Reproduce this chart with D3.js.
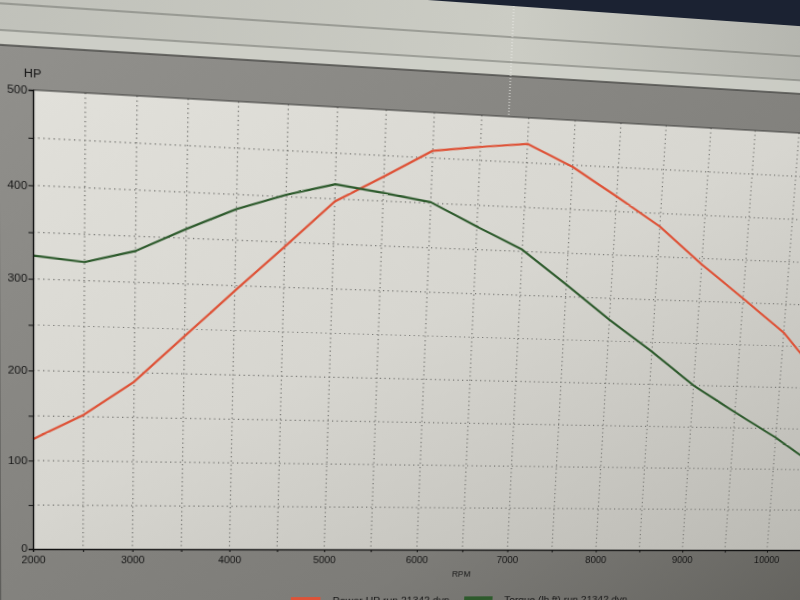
<!DOCTYPE html>
<html lang="en">
<head>
  <meta charset="UTF-8">
  <title>Dyno run - Power HP and Torque</title>
  <script src="https://d3js.org/d3.v7.min.js"></script>
  <style>
    html, body {
      margin: 0;
      padding: 0;
      width: 800px;
      height: 600px;
      overflow: hidden;
      background: #1b2232;
    }
    #screen {
      position: absolute;
      left: 0;
      top: 0;
      width: 800px;
      height: 600px;
      transform-origin: 0 0;
    }
    #screen svg {
      position: absolute;
      left: -60px;
      top: -80px;
      overflow: visible;
    }
    text {
      font-family: "Liberation Sans", Arial, sans-serif;
      fill: #161616;
    }
  </style>
</head>
<body>
  <div id="screen"></div>

  <script>
    // data (rpm, HP, lb.ft)
    const rpm = [2000, 2500, 3000, 3500, 4000, 4500, 5000, 5500, 6000, 6500, 7000, 7500, 8000, 8500, 9000, 9500, 10000, 10500];
    const powerHP = [124, 152, 190, 242, 294, 345, 397, 427, 458, 465, 471, 448, 417, 385, 343, 305, 266, 210];
    const torque = [325, 320, 334, 360, 384, 402, 416, 409, 401, 376, 352, 314, 275, 239, 200, 169, 139, 105];

    const hpTicks = [0, 50, 100, 150, 200, 250, 300, 350, 400, 450, 500];
    const hpLabels = [0, 100, 200, 300, 400, 500];
    const rpmTicks = [2000, 2500, 3000, 3500, 4000, 4500, 5000, 5500, 6000, 6500, 7000, 7500, 8000, 8500, 9000, 9500, 10000, 10500, 11000];
    const rpmLabels = [2000, 3000, 4000, 5000, 6000, 7000, 8000, 9000, 10000];

    const seriesNames = ["Power HP run 21342.dyn", "Torque (lb.ft) run 21342.dyn"];
    const seriesColors = ["#de5237", "#2d5a2c"];

    // flat layout of the window, the photo perspective is added afterwards
    const plot = { left: 33, top: 90, bottom: 549 };

    const x = d3.scaleLinear()
      .domain([2000, 10000])
      .range([plot.left, 767]);
    const xMax = 11000;

    const y = d3.scaleLinear()
      .domain([0, 500])
      .range([plot.bottom, plot.top]);

    const offX = 60, offY = 80;
    const svgRoot = d3.select("#screen")
      .append("svg")
      .attr("width", 980)
      .attr("height", 800);

    const defs = svgRoot.append("defs");
    const plotGrad = defs.append("linearGradient")
      .attr("id", "plotbg")
      .attr("x1", 0).attr("y1", 0).attr("x2", 1).attr("y2", 1);
    plotGrad.append("stop").attr("offset", "0%").attr("stop-color", "#e1e0da");
    plotGrad.append("stop").attr("offset", "45%").attr("stop-color", "#d7d6d0");
    plotGrad.append("stop").attr("offset", "100%").attr("stop-color", "#b9b8b2");

    const frameGrad = defs.append("linearGradient")
      .attr("id", "framebg")
      .attr("x1", 0).attr("y1", 0).attr("x2", 1).attr("y2", 1);
    frameGrad.append("stop").attr("offset", "0%").attr("stop-color", "#92918d");
    frameGrad.append("stop").attr("offset", "60%").attr("stop-color", "#7d7c78");
    frameGrad.append("stop").attr("offset", "100%").attr("stop-color", "#55544f");

    const topGrad = defs.append("linearGradient")
      .attr("id", "topbg")
      .attr("x1", 0).attr("y1", 0).attr("x2", 1).attr("y2", 0);
    topGrad.append("stop").attr("offset", "0%").attr("stop-color", "#bfc0b9");
    topGrad.append("stop").attr("offset", "55%").attr("stop-color", "#cbccc4");
    topGrad.append("stop").attr("offset", "100%").attr("stop-color", "#a9aaa4");

    const svg = svgRoot.append("g")
      .attr("transform", `translate(${offX},${offY})`);

    // window chrome above the chart
    svg.append("rect")
      .attr("x", -60).attr("y", -21)
      .attr("width", 980).attr("height", 760)
      .attr("fill", "url(#topbg)");
    svg.append("rect")
      .attr("x", -60).attr("y", 35)
      .attr("width", 980).attr("height", 14)
      .attr("fill", "#d0d1c9")
      .attr("opacity", 0.8);
    [10, 35].forEach(ly => {
      svg.append("line")
        .attr("x1", -60).attr("x2", 920)
        .attr("y1", ly).attr("y2", ly)
        .attr("stroke", "#6f706b")
        .attr("stroke-width", 1);
    });

    // grey frame round the plot
    svg.append("rect")
      .attr("x", -60).attr("y", 49)
      .attr("width", 980).attr("height", 700)
      .attr("fill", "url(#framebg)");
    svg.append("line")
      .attr("x1", -60).attr("x2", 920)
      .attr("y1", 49).attr("y2", 49)
      .attr("stroke", "#4a4a47")
      .attr("stroke-width", 1.5);
    svg.append("rect")
      .attr("x", -60).attr("y", 49)
      .attr("width", 63).attr("height", 700)
      .attr("fill", "#6d6c68");
    svg.append("line")
      .attr("x1", 3).attr("x2", 3)
      .attr("y1", 49).attr("y2", 700)
      .attr("stroke", "#3f3f3c")
      .attr("stroke-width", 1);

    // cursor line in the header
    svg.append("line")
      .attr("x1", 472).attr("x2", 472)
      .attr("y1", -21).attr("y2", plot.top)
      .attr("stroke", "#eeeeea")
      .attr("stroke-width", 1)
      .attr("stroke-dasharray", "1,2");

    // plot area
    svg.append("rect")
      .attr("x", plot.left)
      .attr("y", plot.top)
      .attr("width", x(xMax) - plot.left)
      .attr("height", plot.bottom - plot.top)
      .attr("fill", "url(#plotbg)");

    // dotted grid
    svg.append("g")
      .selectAll("line")
      .data(hpTicks.filter(d => d > 0 && d < 500))
      .join("line")
      .attr("x1", plot.left)
      .attr("x2", x(xMax))
      .attr("y1", d => y(d))
      .attr("y2", d => y(d))
      .attr("stroke", "#767672")
      .attr("stroke-width", 1.2)
      .attr("stroke-dasharray", "1.2,3.3");

    svg.append("g")
      .selectAll("line")
      .data(rpmTicks.filter(d => d > 2000))
      .join("line")
      .attr("x1", d => x(d))
      .attr("x2", d => x(d))
      .attr("y1", plot.top)
      .attr("y2", plot.bottom)
      .attr("stroke", "#767672")
      .attr("stroke-width", 1.2)
      .attr("stroke-dasharray", "1.2,3.3");

    // top border of the plot
    svg.append("line")
      .attr("x1", plot.left).attr("x2", x(xMax))
      .attr("y1", plot.top).attr("y2", plot.top)
      .attr("stroke", "#3c3c3a")
      .attr("stroke-width", 1.2);

    // curves
    const curves = [powerHP, torque];
    const line = d3.line()
      .x((d, i) => x(rpm[i]))
      .y(d => y(d));

    svg.append("g")
      .selectAll("path")
      .data(curves)
      .join("path")
      .attr("d", d => line(d))
      .attr("fill", "none")
      .attr("stroke", (d, i) => seriesColors[i])
      .attr("stroke-width", 2.2)
      .attr("stroke-linejoin", "round");

    // axes
    const yAxis = svg.append("g")
      .attr("transform", `translate(${plot.left},0)`)
      .call(d3.axisLeft(y)
        .tickValues(hpTicks)
        .tickSize(4)
        .tickPadding(1)
        .tickFormat(d => hpLabels.includes(d) ? d : ""));

    const xAxis = svg.append("g")
      .attr("transform", `translate(0,${plot.bottom})`)
      .call(d3.axisBottom(x.copy().domain([2000, xMax]).range([plot.left, x(xMax)]))
        .tickValues(rpmTicks)
        .tickSize(3)
        .tickPadding(5)
        .tickFormat(d => rpmLabels.includes(d) ? d : ""));

    [yAxis, xAxis].forEach(a => {
      a.select(".domain").attr("stroke", "#111").attr("stroke-width", 1.3);
      a.selectAll(".tick line").attr("stroke", "#111");
      a.selectAll("text").attr("fill", "#161616").attr("font-size", 10.5);
    });
    xAxis.selectAll("text").attr("font-size", 10);
    yAxis.select(".tick text").attr("dy", "0.2em");

    svg.append("text")
      .attr("x", 25)
      .attr("y", 78)
      .attr("font-size", 11)
      .text("HP");

    svg.append("text")
      .attr("x", x(6500))
      .attr("y", 579)
      .attr("text-anchor", "middle")
      .attr("font-size", 8.5)
      .text("RPM");

    // legend, cut by the bottom edge of the photo
    const legendX = [277, 450];
    const legend = svg.append("g")
      .selectAll("g")
      .data(seriesNames)
      .join("g")
      .attr("transform", (d, i) => `translate(${legendX[i]},601)`);
    legend.append("rect")
      .attr("width", 29)
      .attr("height", 4)
      .attr("fill", (d, i) => seriesColors[i]);
    legend.append("text")
      .attr("x", 41)
      .attr("y", 8)
      .attr("font-size", 10.5)
      .text(d => d);

    // perspective of the photo: map flat corners to where they sit in the picture
    function homography(src, dst) {
      const A = [], b = [];
      for (let i = 0; i < 4; i++) {
        const [sx, sy] = src[i], [u, v] = dst[i];
        A.push([sx, sy, 1, 0, 0, 0, -u * sx, -u * sy]); b.push(u);
        A.push([0, 0, 0, sx, sy, 1, -v * sx, -v * sy]); b.push(v);
      }
      const n = 8;
      for (let c = 0; c < n; c++) {
        let p = c;
        for (let r = c + 1; r < n; r++) if (Math.abs(A[r][c]) > Math.abs(A[p][c])) p = r;
        [A[c], A[p]] = [A[p], A[c]];
        [b[c], b[p]] = [b[p], b[c]];
        for (let r = 0; r < n; r++) {
          if (r === c) continue;
          const f = A[r][c] / A[c][c];
          for (let k = c; k < n; k++) A[r][k] -= f * A[c][k];
          b[r] -= f * b[c];
        }
      }
      return b.map((v, i) => v / A[i][i]);
    }

    const h = homography(
      [[x(2000), y(500)], [x(2000), y(0)], [x(10000), y(0)], [x(10000), y(500)]],
      [[33, 90], [33, 549], [767, 550], [799, 133]]
    );
    const m = [h[0], h[3], 0, h[6], h[1], h[4], 0, h[7], 0, 0, 1, 0, h[2], h[5], 0, 1];
    d3.select("#screen").style("transform", `matrix3d(${m.join(",")})`);
  </script>
</body>
</html>
